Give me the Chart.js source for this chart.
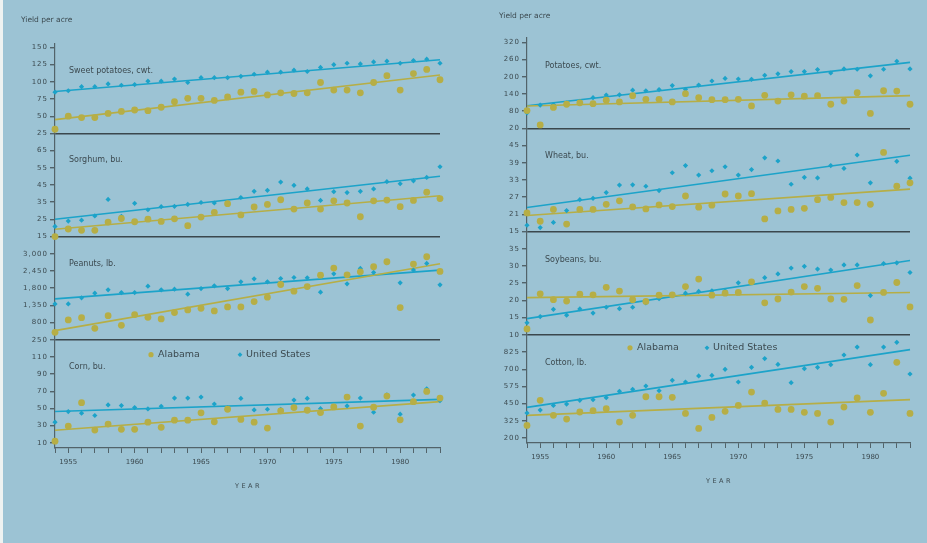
<!DOCTYPE html>
<html lang="en">
<head>
<meta charset="UTF-8">
<title>Yield per acre, Alabama and United States</title>
<style>
  html, body { margin: 0; padding: 0; }
  body { background: #9cc3d4; width: 927px; height: 543px; overflow: hidden; position: relative; }
  #edge { position: absolute; left: 0; top: 0; width: 3px; height: 543px; background: #eef2f1; }
  canvas { position: absolute; top: 0; }
  #left { left: 0; }
  #right { left: 470px; }
</style>
</head>
<body>
<div id="edge"></div>
<canvas id="left" width="470" height="543"></canvas>
<canvas id="right" width="457" height="543"></canvas>

<script src="https://cdn.jsdelivr.net/npm/chart.js@4.4.1/dist/chart.umd.min.js"></script>
<script>

var years = [1954, 1955, 1956, 1957, 1958, 1959, 1960, 1961, 1962, 1963,
             1964, 1965, 1966, 1967, 1968, 1969, 1970, 1971, 1972, 1973,
             1974, 1975, 1976, 1977, 1978, 1979, 1980, 1981, 1982, 1983];

// left column
var sweetPotatoAL = [31, 50, 48, 48, 54, 57, 59, 58, 63, 71, 76, 76, 73, 78, 85, 86, 81, 84, 83, 84, 99, 88, 88, 84, 99, 109, 88, 112, 118, 103];
var sweetPotatoUS = [85, 87, 93, 93, 97, 95, 96, 101, 101, 104, 99, 106, 106, 106, 108, 111, 114, 114, 117, 115, 121, 125, 127, 126, 129, 130, 127, 131, 133, 127];
var sweetPotatoTrendAL = [45, 110];
var sweetPotatoTrendUS = [86, 132];
var sweetPotatoTickValues = [25, 50, 75, 100, 125, 150];
var sweetPotatoTicks = ['25', '50', '75', '100', '125', '150'];

var sorghumAL = [15, 19.4, 18.6, 18.6, 23.4, 25.5, 23.6, 25.1, 23.8, 25.3, 21.3, 26.3, 29.1, 34.1, 27.6, 32.2, 33.7, 36.4, 31, 34.5, 31, 35.8, 34.5, 26.5, 35.8, 36.2, 32.4, 36, 40.8, 37.1];
var sorghumUS = [20.9, 24, 24.5, 27, 36.6, 26.8, 34.3, 30.6, 32.4, 32.6, 33.7, 34.8, 34.5, 33.7, 37.7, 41.3, 41.9, 46.7, 44.8, 42.7, 36, 41.1, 40.6, 41.3, 42.7, 46.9, 45.7, 47.4, 49.4, 55.6];
var sorghumTrendAL = [19.2, 38.7];
var sorghumTrendUS = [25.1, 50.1];
var sorghumTickValues = [15, 25, 35, 45, 55, 65];
var sorghumTicks = ['15', '25', '35', '45', '55', '65'];

var peanutAL = [485, 881, 956, 614, 1020, 710, 1053, 967, 913, 1117, 1202, 1256, 1170, 1299, 1299, 1470, 1609, 2016, 1802, 1951, 2315, 2540, 2326, 2422, 2583, 2743, 1277, 2668, 2904, 2433];
var peanutUS = [1395, 1395, 1588, 1737, 1844, 1759, 1759, 1962, 1844, 1866, 1705, 1887, 1973, 1887, 2101, 2197, 2101, 2208, 2240, 2230, 1769, 2358, 2037, 2529, 2401, 2711, 2069, 2476, 2690, 2005];
var peanutTrendAL = [539, 2679];
var peanutTrendUS = [1555, 2476];
var peanutTickValues = [250, 800, 1350, 1900, 2450, 3000];
var peanutTicks = ['250', '800', '1,350', '1,800', '2,450', '3,000'];

var cornAL = [11.9, 29.5, 56.7, 24.9, 31.8, 25.7, 25.7, 34.1, 28, 36.4, 36.4, 44.9, 34.5, 49.1, 37.2, 34.1, 27.2, 47.2, 51, 47.9, 45.2, 51.8, 63.3, 29.5, 51.4, 64.4, 36.8, 57.9, 69.8, 62.1];
var cornUS = [34.1, 46.4, 44.5, 41.8, 54.1, 53.3, 51, 49.5, 52.5, 62.1, 62.1, 63.3, 55.2, 51, 61.7, 48.3, 49.1, 49.1, 59.8, 61.7, 49.8, 51.4, 52.9, 62.1, 45.6, 65.9, 43.3, 65.6, 72.8, 59];
var cornTrendAL = [24.6, 57.9];
var cornTrendUS = [46.4, 60.6];
var cornTickValues = [10, 30, 50, 70, 90, 110];
var cornTicks = ['10', '30', '50', '70', '90', '110'];

// right column
var potatoAL = [82, 32, 93, 104, 109, 106, 118, 112, 134, 121, 121, 112, 141, 127, 120, 120, 121, 98, 135, 115, 137, 132, 134, 104, 115, 144, 72, 151, 150, 104];
var potatoUS = [74, 101, 103, 108, 114, 127, 136, 137, 153, 151, 155, 169, 156, 171, 185, 194, 192, 191, 205, 210, 218, 218, 225, 213, 227, 226, 203, 226, 254, 227];
var potatoTrendAL = [98, 134];
var potatoTrendUS = [99, 250];
var potatoTickValues = [20, 80, 140, 200, 260, 320];
var potatoTicks = ['20', '80', '140', '200', '260', '320'];

var wheatAL = [21.5, 18.6, 22.7, 17.6, 22.7, 22.7, 24.5, 25.7, 23.6, 22.9, 24.3, 23.7, 27.4, 23.5, 24.2, 28.1, 27.4, 28.2, 19.4, 22.2, 22.7, 23.1, 26.1, 26.9, 25.1, 25.1, 24.5, 42.6, 30.8, 32];
var wheatUS = [17.2, 16.4, 18.2, 22.3, 26.1, 26.6, 28.6, 31.2, 31.3, 30.8, 29.3, 35.5, 38, 34.7, 36.2, 37.6, 34.7, 36.6, 40.7, 39.6, 31.5, 33.9, 33.7, 38, 37, 41.7, 32, 42.6, 39.5, 33.6];
var wheatTrendAL = [20.6, 29.8];
var wheatTrendUS = [23.4, 41.6];
var wheatTickValues = [15, 21, 27, 33, 39, 45];
var wheatTicks = ['15', '21', '27', '33', '39', '45'];

var soybeanAL = [11.7, 21.9, 20.2, 19.8, 21.8, 21.6, 23.8, 22.7, 20.2, 19.7, 21.5, 21.6, 24, 26.2, 21.5, 22.1, 22.3, 25.4, 19.3, 20.4, 22.4, 24, 23.5, 20.4, 20.3, 24.3, 14.3, 22.3, 25.2, 18.1];
var soybeanUS = [13.5, 15.3, 17.4, 15.7, 17.5, 16.3, 18, 17.6, 18, 19.3, 20.5, 21.7, 22.1, 22.6, 22.8, 22.8, 25.1, 25.3, 26.6, 27.7, 29.4, 29.9, 29.1, 28.8, 30.3, 30.3, 21.4, 30.7, 30.9, 28.1];
var soybeanTrendAL = [20.8, 22.3];
var soybeanTrendUS = [14.7, 31.6];
var soybeanTickValues = [10, 15, 20, 25, 30, 35];
var soybeanTicks = ['10', '15', '20', '25', '30', '35'];

var cottonAL = [292, 474, 365, 338, 389, 399, 413, 316, 365, 500, 500, 496, 379, 270, 350, 394, 437, 534, 454, 408, 408, 387, 379, 316, 425, 491, 387, 525, 750, 379];
var cottonUS = [382, 403, 437, 447, 474, 479, 493, 539, 554, 578, 544, 619, 607, 651, 655, 699, 607, 714, 777, 735, 602, 704, 714, 733, 803, 861, 733, 861, 895, 665];
var cottonTrendAL = [365, 479];
var cottonTrendUS = [423, 842];
var cottonTickValues = [200, 325, 450, 575, 700, 825];
var cottonTicks = ['200', '325', '450', '575', '700', '825'];

var yearTicks = [1955, 1960, 1965, 1970, 1975, 1980];


var INK = '#3c4a50';
var AXIS = '#52636a';
var RULE = '#3a474d';
var AL_COLOR = '#b6ae46';
var US_COLOR = '#1ca3c9';
var FONT = '"DejaVu Sans", sans-serif';

function points(values) {
    return values.map(function (v, i) { return {x: years[i], y: v}; });
}

function trend(ends) {
    return [{x: years[0], y: ends[0]}, {x: years[years.length - 1], y: ends[1]}];
}

// text labels, legend, "Yield per acre" and "YEAR" drawn on top of the chart
var notes = {
    id: 'notes',
    beforeDraw: function (chart) {
        // y tick labels are spaced out
        chart.ctx.letterSpacing = '1px';
    },
    afterDatasetsDraw: function (chart) {
        // year labels (drawn after datasets, z = 1) are set tighter
        chart.ctx.letterSpacing = '0px';
    },
    afterDraw: function (chart, args, opts) {
        var ctx = chart.ctx;
        var area = chart.chartArea;
        ctx.save();
        ctx.letterSpacing = '0px';
        ctx.fillStyle = INK;
        ctx.textBaseline = 'middle';
        ctx.textAlign = 'left';

        ctx.font = '7.5px ' + FONT;
        ctx.fillText('Yield per acre', opts.yieldX, opts.yieldY);

        ctx.font = '8px ' + FONT;
        opts.panels.forEach(function (p) {
            var s = chart.scales[p.id];
            ctx.fillText(p.label, area.left + opts.labelDx, s.top + opts.labelDy);
        });

        ctx.save();
        ctx.textAlign = 'center';
        ctx.font = '6.5px ' + FONT;
        ctx.letterSpacing = '2.5px';
        ctx.fillText('YEAR', (area.left + area.right) / 2 + 1, area.bottom + 38);
        ctx.restore();

        var ly = chart.scales[opts.legendScale].top + opts.legendDy;
        var ax = area.left + opts.alDx;
        var ux = area.left + opts.usDx;
        ctx.fillStyle = AL_COLOR;
        ctx.beginPath();
        ctx.arc(ax, ly, 2.6, 0, Math.PI * 2);
        ctx.fill();
        ctx.fillStyle = US_COLOR;
        ctx.beginPath();
        ctx.moveTo(ux, ly - 2.4);
        ctx.lineTo(ux + 2.4, ly);
        ctx.lineTo(ux, ly + 2.4);
        ctx.lineTo(ux - 2.4, ly);
        ctx.closePath();
        ctx.fill();

        ctx.fillStyle = INK;
        ctx.font = '9.5px ' + FONT;
        ctx.fillText('Alabama', ax + 7, ly);
        ctx.fillText('United States', ux + 6, ly);
        ctx.restore();
    }
};

function buildChart(canvasId, panels, layout, noteOpts) {
    var scales = {
        x: {
            type: 'linear',
            min: years[0],
            max: years[years.length - 1],
            afterBuildTicks: function (s) {
                s.ticks = years.map(function (v) { return {value: v}; });
            },
            afterFit: function (s) { s.height = 45; },
            ticks: {
                z: 1,
                autoSkip: false,
                maxRotation: 0,
                padding: 5,
                color: INK,
                font: {family: FONT, size: 7},
                callback: function (v) { return yearTicks.indexOf(v) >= 0 ? String(v) : ''; }
            },
            grid: {drawOnChartArea: false, tickLength: 5, color: AXIS, tickColor: AXIS, lineWidth: 1},
            border: {display: true, color: AXIS, width: 1.2}
        }
    };
    var datasets = [];

    panels.forEach(function (p) {
        scales[p.id] = {
            type: 'linear',
            position: 'left',
            stack: 'side',
            stackWeight: p.weight,
            min: p.min,
            max: p.max,
            afterFit: function (s) { s.width = 50; },
            afterBuildTicks: function (s) {
                s.ticks = p.tickValues.map(function (v) { return {value: v}; });
            },
            ticks: {
                autoSkip: false,
                padding: 2,
                color: INK,
                font: {family: FONT, size: 7},
                callback: function (v, i) { return p.tickLabels[i]; }
            },
            grid: {
                drawOnChartArea: true,
                tickLength: 5,
                tickColor: AXIS,
                lineWidth: 1.4,
                color: function (c) {
                    return c.tick && c.tick.value === p.min ? RULE : 'rgba(0,0,0,0)';
                }
            },
            border: {display: true, color: AXIS, width: 1.2}
        };

        datasets.push({
            label: p.label + ' Alabama',
            data: points(p.al),
            yAxisID: p.id,
            pointStyle: 'circle',
            pointRadius: 3.4,
            backgroundColor: AL_COLOR,
            borderWidth: 0,
            clip: false,
            order: 0
        });
        datasets.push({
            label: p.label + ' United States',
            data: points(p.us),
            yAxisID: p.id,
            pointStyle: 'rectRot',
            pointRadius: 2.6,
            backgroundColor: US_COLOR,
            borderWidth: 0,
            clip: false,
            order: 0
        });
        datasets.push({
            label: p.label + ' Alabama trend',
            data: trend(p.trendAL),
            yAxisID: p.id,
            showLine: true,
            pointRadius: 0,
            borderColor: AL_COLOR,
            borderWidth: 1.6,
            clip: false,
            order: 1
        });
        datasets.push({
            label: p.label + ' United States trend',
            data: trend(p.trendUS),
            yAxisID: p.id,
            showLine: true,
            pointRadius: 0,
            borderColor: US_COLOR,
            borderWidth: 1.6,
            clip: false,
            order: 1
        });
    });

    noteOpts.panels = panels;

    return new Chart(document.getElementById(canvasId), {
        type: 'scatter',
        data: {datasets: datasets},
        options: {
            responsive: false,
            animation: false,
            events: [],
            layout: {padding: layout},
            scales: scales,
            plugins: {
                legend: {display: false},
                tooltip: {enabled: false},
                notes: noteOpts
            }
        },
        plugins: [notes]
    });
}

// panels listed bottom to top: the last stacked scale sits on top
buildChart('left', [
    {id: 'corn', label: 'Corn, bu.', al: cornAL, us: cornUS, trendAL: cornTrendAL, trendUS: cornTrendUS,
     tickValues: cornTickValues, tickLabels: cornTicks, min: 4, max: 130, weight: 6.3},
    {id: 'peanut', label: 'Peanuts, lb.', al: peanutAL, us: peanutUS, trendAL: peanutTrendAL, trendUS: peanutTrendUS,
     tickValues: peanutTickValues, tickLabels: peanutTicks, min: 250, max: 3550, weight: 6},
    {id: 'sorghum', label: 'Sorghum, bu.', al: sorghumAL, us: sorghumUS, trendAL: sorghumTrendAL, trendUS: sorghumTrendUS,
     tickValues: sorghumTickValues, tickLabels: sorghumTicks, min: 15, max: 75, weight: 6},
    {id: 'sweet', label: 'Sweet potatoes, cwt.', al: sweetPotatoAL, us: sweetPotatoUS, trendAL: sweetPotatoTrendAL, trendUS: sweetPotatoTrendUS,
     tickValues: sweetPotatoTickValues, tickLabels: sweetPotatoTicks, min: 25, max: 155, weight: 5.2}
], {left: 5, right: 30, top: 44, bottom: 50},
   {yieldX: 21, yieldY: 20, labelDx: 14, labelDy: 27, legendScale: 'corn', legendDy: 15, alDx: 96, usDx: 185});

buildChart('right', [
    {id: 'cotton', label: 'Cotton, lb.', al: cottonAL, us: cottonUS, trendAL: cottonTrendAL, trendUS: cottonTrendUS,
     tickValues: cottonTickValues, tickLabels: cottonTicks, min: 164, max: 950, weight: 6.29},
    {id: 'soybean', label: 'Soybeans, bu.', al: soybeanAL, us: soybeanUS, trendAL: soybeanTrendAL, trendUS: soybeanTrendUS,
     tickValues: soybeanTickValues, tickLabels: soybeanTicks, min: 10, max: 40, weight: 6},
    {id: 'wheat', label: 'Wheat, bu.', al: wheatAL, us: wheatUS, trendAL: wheatTrendAL, trendUS: wheatTrendUS,
     tickValues: wheatTickValues, tickLabels: wheatTicks, min: 15, max: 51, weight: 6},
    {id: 'potato', label: 'Potatoes, cwt.', al: potatoAL, us: potatoUS, trendAL: potatoTrendAL, trendUS: potatoTrendUS,
     tickValues: potatoTickValues, tickLabels: potatoTicks, min: 20, max: 335, weight: 5.25}
], {left: 7, right: 17, top: 38, bottom: 55},
   {yieldX: 29, yieldY: 16, labelDx: 18, labelDy: 28, legendScale: 'cotton', legendDy: 13, alDx: 103, usDx: 180});
</script>
</body>
</html>
